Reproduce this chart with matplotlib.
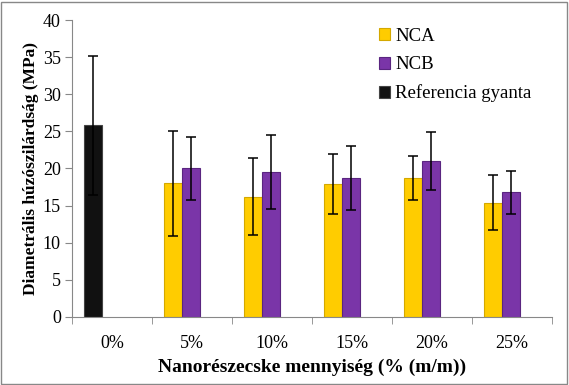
import matplotlib.pyplot as plt
import numpy as np
from matplotlib.patches import Rectangle

plt.rcParams['font.family'] = ['Liberation Serif', 'DejaVu Serif']

categories = ['0%', '5%', '10%', '15%', '20%', '25%']
ref_value = 25.8
ref_err = 9.4
nca = [18.0, 16.2, 17.9, 18.7, 15.4]
nca_err = [7.1, 5.2, 4.1, 3.0, 3.7]
ncb = [20.0, 19.5, 18.7, 21.0, 16.8]
ncb_err = [4.2, 5.0, 4.3, 3.9, 2.9]

fig = plt.figure(figsize=(5.69, 3.85), dpi=100)
ax = fig.add_axes([0.1265, 0.177, 0.8435, 0.771])

w = 0.22
x = np.arange(len(categories))
ek = dict(ecolor='black', capsize=3.5, elinewidth=1.1, capthick=1.1)

ax.bar(x[0] - 0.235, ref_value, w, yerr=ref_err, color='#111111',
       edgecolor='#444444', linewidth=0.8, error_kw=ek, label='Referencia gyanta', zorder=2)
ax.bar(x[1:] - 0.235, nca, w, yerr=nca_err, color='#FFCC00',
       edgecolor='#D4A800', linewidth=0.8, error_kw=ek, label='NCA', zorder=2)
ax.bar(x[1:] - 0.015, ncb, w, yerr=ncb_err, color='#7A35A8',
       edgecolor='#5A2580', linewidth=0.8, error_kw=ek, label='NCB', zorder=2)

ax.set_xlim(-0.5, len(categories) - 0.5)
ax.set_ylim(0, 40)
ax.set_yticks(range(0, 41, 5))
ax.set_xticks(x)
ax.set_xticklabels(categories)
ax.set_xticks(np.arange(-0.5, len(categories), 1), minor=True)
ax.tick_params(axis='x', which='major', length=0, pad=13, labelsize=13)
ax.tick_params(axis='x', which='minor', length=5, color='#888888')
ax.tick_params(axis='y', length=5, color='#888888', labelsize=13, pad=3)

for s in ['top', 'right']:
    ax.spines[s].set_visible(False)
for s in ['left', 'bottom']:
    ax.spines[s].set_color('#888888')

ax.set_xlabel('Nanorészecske mennyiség (% (m/m))', fontsize=14, fontweight='bold', labelpad=5)
ax.set_ylabel('Diametrális húzószilárdság (MPa)', fontsize=12.5, fontweight='bold', labelpad=3)

h, l = ax.get_legend_handles_labels()
order = [1, 2, 0]
ax.legend([h[i] for i in order], [l[i] for i in order], loc='upper left',
          bbox_to_anchor=(0.605, 1.03), frameon=False, fontsize=13.5,
          handlelength=0.6, handleheight=0.6, handletextpad=0.25, labelspacing=0.6)

fig.patches.append(Rectangle((0.002, 0.003), 0.995, 0.993, transform=fig.transFigure,
                             fill=False, edgecolor='#888888', linewidth=1))

fig.savefig('out.png', dpi=100)
